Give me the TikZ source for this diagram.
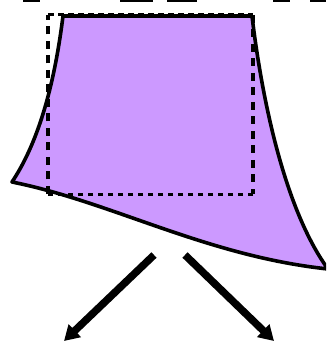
\documentclass[tikz,border=0pt]{standalone}
\usetikzlibrary{arrows.meta}
\definecolor{lilac}{HTML}{CC99FF}
\tikzset{
  shapeline/.style={draw=black, line width=3.6pt, fill=lilac, line join=round},
  dashh/.style={draw=black, line width=3pt, dash pattern=on 5.5pt off 4.5pt},
  dashv/.style={draw=black, line width=3.6pt, dash pattern=on 8pt off 6.5pt},
  bigarrow/.style={draw=black, line width=7.5pt, -{Triangle[length=15pt,width=17pt]}},
  topbit/.style={fill=black, draw=none}
}
\begin{document}
\begin{tikzpicture}[x=1pt,y=-1pt]
\useasboundingbox (0,0) rectangle (326,344);
% clipped fragments at the top edge
\fill[topbit] (23,0) rectangle (40,2);
\fill[topbit] (120,0) rectangle (153,2);
\fill[topbit] (167,0) rectangle (197,2);
\fill[topbit] (273,0) rectangle (290,2);
\fill[topbit] (310,0) rectangle (326,2);
% the purple shape
\begin{scope}
\clip (0,0) rectangle (326,344);
\path[shapeline] (63,16) -- (252,16)
  .. controls (262,100) and (285,210) .. (328,269)
  .. controls (206,256) and (112,202) .. (12,182)
  .. controls (40,140) and (55,80) .. (63,16) -- cycle;
\end{scope}
% dashed box
\coordinate (tl) at (48,15);
\coordinate (tr) at (253,15);
\coordinate (br) at (253,194);
\coordinate (bl) at (48,194);
\draw[dashh] (tl) -- (tr);
\draw[dashv] (tr) -- (br);
\draw[dashh] (br) -- (bl);
\draw[dashv] (bl) -- (tl);
% arrows
\coordinate (ls) at (154,255);
\coordinate (le) at (64,341);
\coordinate (rs) at (185,255);
\coordinate (re) at (274,341);
\draw[bigarrow] (ls) -- (le);
\draw[bigarrow] (rs) -- (re);
\end{tikzpicture}
\end{document}
